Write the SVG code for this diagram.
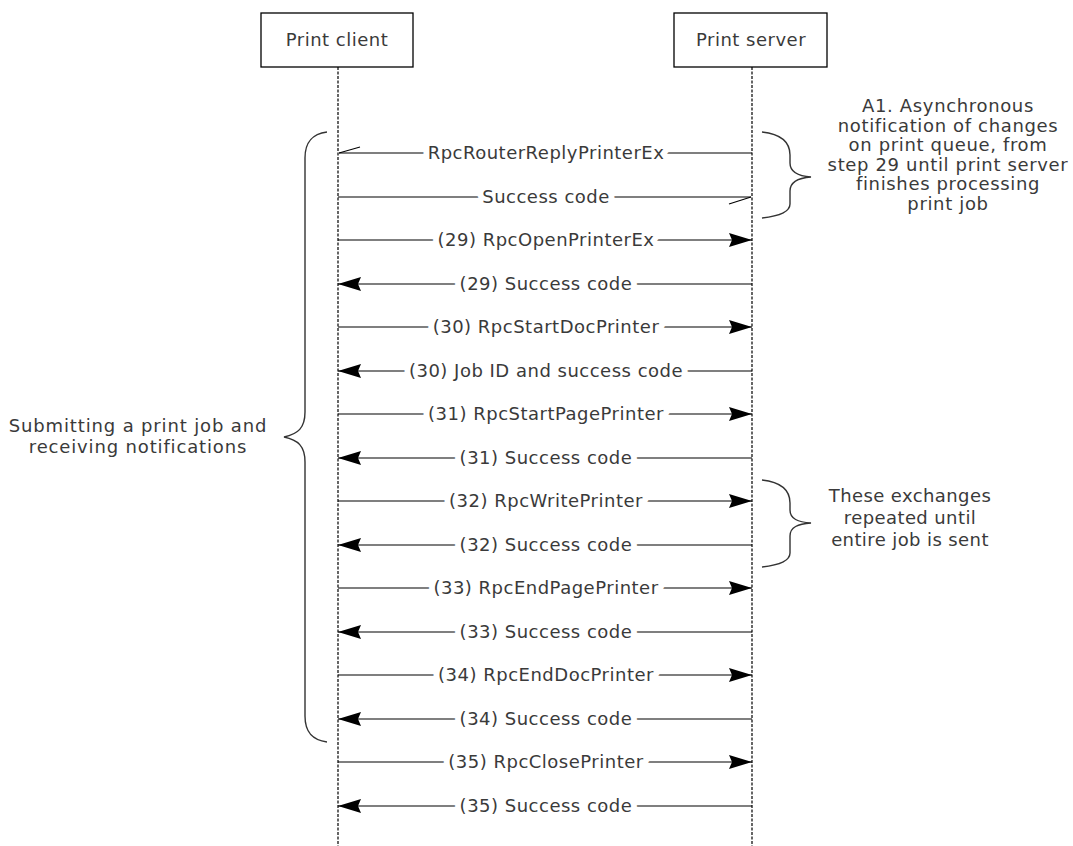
<svg xmlns="http://www.w3.org/2000/svg" width="1073" height="846" viewBox="0 0 1073 846">
<defs>
<style>
text{font-family:"DejaVu Sans","Verdana",sans-serif;font-size:18px;fill:#3a3a3a;text-anchor:middle;letter-spacing:0.5px}
.lbl{paint-order:stroke;stroke:#fff;stroke-width:12px;stroke-linejoin:round}
.wide{letter-spacing:0.85px}
.a1{letter-spacing:0.65px}
.rep{letter-spacing:0.4px}
.box{fill:#fff;stroke:#000;stroke-width:1.3}
.life{stroke:#000;stroke-width:1.2;stroke-dasharray:3,1.5;fill:none}
.msg{stroke:#000;stroke-width:1.1;fill:none}
.brace{stroke:#333;stroke-width:1.4;fill:none}
</style>
<marker id="ah" viewBox="0 0 23 14" refX="23" refY="7" markerWidth="23" markerHeight="14" markerUnits="userSpaceOnUse" orient="auto">
<path d="M0,0 L23,7 L0,14 L3,7 Z" fill="#000"/>
</marker>
</defs>
<g id="client">
<rect class="box" x="261" y="13" width="152" height="54"/>
<text x="337" y="46">Print client</text>
</g>
<g id="server">
<rect class="box" x="674" y="13" width="153" height="54"/>
<text x="751" y="46">Print server</text>
</g>
<g id="lifelines">
<line class="life" x1="338" y1="67" x2="338" y2="846"/>
<line class="life" x1="752" y1="67" x2="752" y2="846"/>
</g>
<g id="connectors">
<line class="msg" x1="752" y1="153" x2="339" y2="153"/>
<line class="msg" x1="339" y1="153" x2="360" y2="147"/>
<line class="msg" x1="338" y1="197" x2="751" y2="197"/>
<line class="msg" x1="751" y1="197" x2="729" y2="204"/>
<line class="msg" x1="338" y1="240" x2="752" y2="240" marker-end="url(#ah)"/>
<line class="msg" x1="752" y1="284" x2="338" y2="284" marker-end="url(#ah)"/>
<line class="msg" x1="338" y1="327" x2="752" y2="327" marker-end="url(#ah)"/>
<line class="msg" x1="752" y1="371" x2="338" y2="371" marker-end="url(#ah)"/>
<line class="msg" x1="338" y1="414" x2="752" y2="414" marker-end="url(#ah)"/>
<line class="msg" x1="752" y1="458" x2="338" y2="458" marker-end="url(#ah)"/>
<line class="msg" x1="338" y1="501" x2="752" y2="501" marker-end="url(#ah)"/>
<line class="msg" x1="752" y1="545" x2="338" y2="545" marker-end="url(#ah)"/>
<line class="msg" x1="338" y1="588" x2="752" y2="588" marker-end="url(#ah)"/>
<line class="msg" x1="752" y1="632" x2="338" y2="632" marker-end="url(#ah)"/>
<line class="msg" x1="338" y1="675" x2="752" y2="675" marker-end="url(#ah)"/>
<line class="msg" x1="752" y1="719" x2="338" y2="719" marker-end="url(#ah)"/>
<line class="msg" x1="338" y1="762" x2="752" y2="762" marker-end="url(#ah)"/>
<line class="msg" x1="752" y1="806" x2="338" y2="806" marker-end="url(#ah)"/>
</g>
<g id="labels">
<text class="lbl" x="546" y="159">RpcRouterReplyPrinterEx</text>
<text class="lbl" x="546" y="203">Success code</text>
<text class="lbl" x="546" y="246">(29) RpcOpenPrinterEx</text>
<text class="lbl" x="546" y="290">(29) Success code</text>
<text class="lbl" x="546" y="333">(30) RpcStartDocPrinter</text>
<text class="lbl" x="546" y="377">(30) Job ID and success code</text>
<text class="lbl" x="546" y="420">(31) RpcStartPagePrinter</text>
<text class="lbl" x="546" y="464">(31) Success code</text>
<text class="lbl" x="546" y="507">(32) RpcWritePrinter</text>
<text class="lbl" x="546" y="551">(32) Success code</text>
<text class="lbl" x="546" y="594">(33) RpcEndPagePrinter</text>
<text class="lbl" x="546" y="638">(33) Success code</text>
<text class="lbl" x="546" y="681">(34) RpcEndDocPrinter</text>
<text class="lbl" x="546" y="725">(34) Success code</text>
<text class="lbl" x="546" y="768">(35) RpcClosePrinter</text>
<text class="lbl" x="546" y="812">(35) Success code</text>
</g>
<g id="brace-left">
<path class="brace" d="M327,132 C312,134 305,142 305,158 L305,412 C305,428 298,434 284,437 C298,440 305,446 305,462 L305,716 C305,732 312,740 327,742"/>
<text class="wide" x="138" y="432">Submitting a print job and</text>
<text class="wide" x="138" y="453">receiving notifications</text>
</g>
<g id="brace-a1">
<path class="brace" d="M762,132 C780,134 790,142 790,155 L790,163 C790,172 798,176 811,177 C798,178 790,182 790,191 L790,204 C790,212 780,216 762,218"/>
<text class="a1" x="948" y="112">A1. Asynchronous</text>
<text class="a1" x="948" y="131.5">notification of changes</text>
<text class="a1" x="948" y="151">on print queue, from</text>
<text class="a1" x="948" y="170.5">step 29 until print server</text>
<text class="a1" x="948" y="190">finishes processing</text>
<text class="a1" x="948" y="209.5">print job</text>
</g>
<g id="brace-repeat">
<path class="brace" d="M762,480 C780,482 790,490 790,503 L790,510 C790,519 798,522 811,523 C798,524 790,527 790,536 L790,553 C790,561 780,565 762,567"/>
<text class="rep" x="910" y="502">These exchanges</text>
<text class="rep" x="910" y="524">repeated until</text>
<text class="rep" x="910" y="546">entire job is sent</text>
</g>
</svg>
